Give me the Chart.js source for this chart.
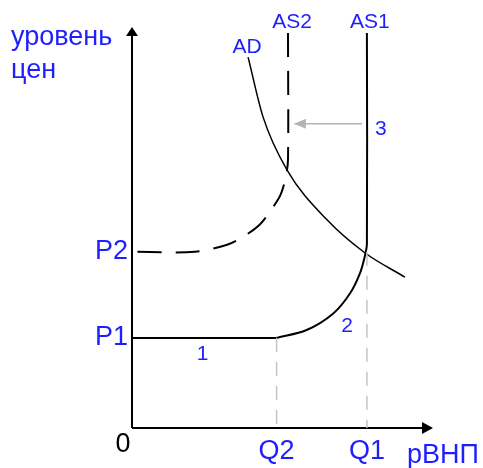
<!DOCTYPE html>
<html><head><meta charset="utf-8">
<script src="https://cdn.jsdelivr.net/npm/chart.js@4/dist/chart.umd.min.js"></script>
<style>html,body{margin:0;padding:0;background:#fff}</style>
</head><body>
<canvas id="c" width="483" height="468"></canvas>
<script>
// ---- data (arbitrary units: x 0..100, y 0..100) ----
const priceTickValues = [22.8, 44.6];
const priceTickLabels = ['P1', 'P2'];
const outputTickValues = [48.2, 78.3];
const outputTickLabels = ['Q2', 'Q1'];

const as1FlatX = [0, 48.2];
const as1FlatY = [22.8, 22.8];
const as1CurveX = [48.2, 58.2, 67.1, 72.7, 76.0, 77.7, 78.3, 78.3];
const as1CurveY = [22.8, 24.8, 29.0, 34.1, 39.2, 43.8, 46.5, 100];

const as2X = [0, 21.0, 31.7, 37.0, 42.7, 47.0, 49.5, 51.2, 52.0, 52.0];
const as2Y = [44.6, 44.6, 46.4, 48.4, 51.6, 55.9, 59.0, 63.3, 68.0, 100];

const adX = [38.7, 43.7, 51.7, 65.0, 77.7, 91.0];
const adY = [93.9, 78.7, 65.3, 52.7, 44.3, 38.2];

const shiftX = [76.7, 54.3];
const shiftY = [77.0, 77.0];

const pts = (xs, ys) => xs.map((x, i) => ({x, y: ys[i]}));

const BLUE = '#1e1eff';
const FONT = '"Liberation Sans", Arial, sans-serif';

const decor = {
  id: 'decor',
  beforeDatasetsDraw(chart) {
    const {ctx, chartArea: a} = chart;
    ctx.save();
    ctx.strokeStyle = '#000'; ctx.fillStyle = '#000'; ctx.lineWidth = 2;
    // y axis
    ctx.beginPath(); ctx.moveTo(a.left, a.bottom); ctx.lineTo(a.left, a.top - 2); ctx.stroke();
    ctx.beginPath(); ctx.moveTo(a.left, a.top - 6); ctx.lineTo(a.left - 6, a.top + 3); ctx.lineTo(a.left + 6, a.top + 3); ctx.closePath(); ctx.fill();
    // x axis
    ctx.beginPath(); ctx.moveTo(a.left, a.bottom); ctx.lineTo(a.right - 4, a.bottom); ctx.stroke();
    ctx.beginPath(); ctx.moveTo(a.right + 1, a.bottom); ctx.lineTo(a.right - 10, a.bottom - 6); ctx.lineTo(a.right - 10, a.bottom + 6); ctx.closePath(); ctx.fill();
    ctx.restore();
  },
  afterDatasetsDraw(chart) {
    const {ctx, chartArea: a, scales: {x, y}} = chart;
    ctx.save();
    // arrow head of the shift arrow
    const m = chart.getDatasetMeta(5).data;
    const tip = m[m.length - 1];
    ctx.fillStyle = '#b4b4b4';
    ctx.beginPath(); ctx.moveTo(tip.x - 1, tip.y); ctx.lineTo(tip.x + 11, tip.y - 5); ctx.lineTo(tip.x + 11, tip.y + 5); ctx.closePath(); ctx.fill();

    ctx.fillStyle = BLUE;
    ctx.textBaseline = 'alphabetic';
    ctx.font = '27px ' + FONT;
    ctx.textAlign = 'left';
    ctx.fillText('уровень', 11, 45);
    ctx.fillText('цен', 11, 78);
    ctx.fillText('рВНП', a.right - 25, 463);
    ctx.fillStyle = '#000';
    ctx.textAlign = 'center';
    ctx.fillText('0', a.left - 9, 452);

    ctx.fillStyle = BLUE;
    ctx.font = '21px ' + FONT;
    ctx.textAlign = 'center';
    ctx.fillText('AS1', x.getPixelForValue(as1CurveX[as1CurveX.length - 1]) + 3, a.top - 5);
    ctx.fillText('AS2', x.getPixelForValue(as2X[as2X.length - 1]) + 4, a.top - 5);
    ctx.fillText('AD', x.getPixelForValue(adX[0]) - 1, y.getPixelForValue(adY[0]) - 4);
    ctx.textAlign = 'left';
    ctx.fillText('3', x.getPixelForValue(shiftX[0]) + 13, y.getPixelForValue(shiftY[0]) + 11);
    ctx.textAlign = 'center';
    ctx.fillText('2', x.getPixelForValue(71.7), y.getPixelForValue(24.3));
    ctx.fillText('1', x.getPixelForValue(23.5), y.getPixelForValue(17.2));
    ctx.restore();
  }
};

const line = (data, o) => Object.assign({
  data, showLine: true, pointRadius: 0, pointHoverRadius: 0, fill: false,
  borderColor: '#000', borderWidth: 2, tension: 0
}, o);

new Chart(document.getElementById('c'), {
  type: 'scatter',
  data: {
    datasets: [
      line([{x: outputTickValues[0], y: priceTickValues[0]}, {x: outputTickValues[0], y: 0}], {borderColor: '#c4c4c4', borderWidth: 1.5, borderDash: [14, 10]}),
      line([{x: outputTickValues[1], y: priceTickValues[1]}, {x: outputTickValues[1], y: 0}], {borderColor: '#c4c4c4', borderWidth: 1.5, borderDash: [14, 10]}),
      line(pts(as1FlatX, as1FlatY), {}),
      line(pts(as1CurveX, as1CurveY), {tension: 0.35}),
      line(pts(as2X, as2Y).reverse(), {tension: 0.3, borderDash: [24, 14]}),
      line(pts(shiftX, shiftY), {borderColor: '#b4b4b4', borderWidth: 1.5}),
      line(pts(adX, adY), {cubicInterpolationMode: 'monotone', borderWidth: 1.5})
    ]
  },
  options: {
    responsive: false, animation: false,
    layout: {padding: {left: 0, top: 33, right: 51, bottom: 0}},
    plugins: {legend: {display: false}, tooltip: {enabled: false}},
    scales: {
      x: {
        type: 'linear', min: 0, max: 100,
        grid: {display: false, drawTicks: false}, border: {display: false},
        afterFit(s) { s.height = 40; },
        afterBuildTicks(s) { s.ticks = outputTickValues.map(v => ({value: v})); },
        ticks: {
          autoSkip: false, maxRotation: 0, padding: 7, color: BLUE,
          font: {size: 27, family: FONT},
          callback: (v) => outputTickLabels[outputTickValues.indexOf(v)]
        }
      },
      y: {
        type: 'linear', min: 0, max: 100,
        grid: {display: false, drawTicks: false}, border: {display: false},
        afterFit(s) { s.width = 132; },
        afterBuildTicks(s) { s.ticks = priceTickValues.map(v => ({value: v})); },
        ticks: {
          autoSkip: false, padding: 4, color: BLUE,
          font: {size: 27, family: FONT},
          callback: (v) => priceTickLabels[priceTickValues.indexOf(v)]
        }
      }
    }
  },
  plugins: [decor]
});
</script>
</body></html>
